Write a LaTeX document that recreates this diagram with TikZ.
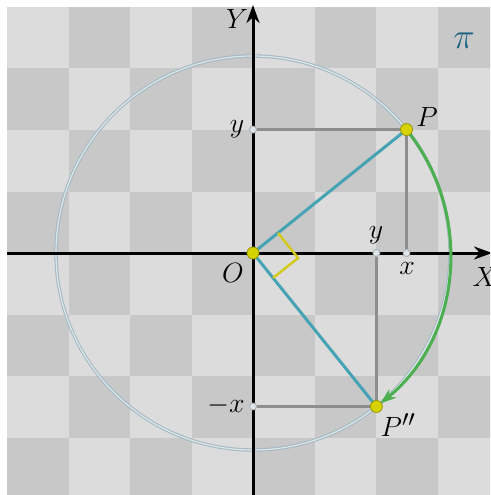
\documentclass[tikz,border=0pt]{standalone}
\usetikzlibrary{arrows.meta}
\definecolor{lightsq}{HTML}{DCDCDC}
\definecolor{darksq}{HTML}{C8C8C8}
\definecolor{circ}{HTML}{A5BAC2}
\definecolor{circin}{HTML}{DDE6EA}
\definecolor{guide}{HTML}{8E8E8E}
\definecolor{radius}{HTML}{45A3B4}
\definecolor{arcg}{HTML}{4CAF50}
\definecolor{yel}{HTML}{D6D200}
\definecolor{yeld}{HTML}{9A9600}
\definecolor{rightmark}{HTML}{D2C81E}
\definecolor{pic}{HTML}{1A6080}
\tikzset{
  axis/.style={line width=3pt, draw=black, -{Stealth[length=18pt,width=13pt]}},
  guideline/.style={line width=2.5pt, draw=guide},
  radline/.style={line width=3pt, draw=radius},
  smalldot/.style={circle, inner sep=0pt, minimum size=7pt, fill=circin, draw=guide!70, line width=0.8pt},
  bigdot/.style={circle, inner sep=0pt, minimum size=12pt, fill=yel, draw=yeld, line width=0.8pt},
  lab/.style={font=\Huge, inner sep=0pt, scale=1.12}
}
\begin{document}
\begin{tikzpicture}[x=1pt,y=-1pt]
\useasboundingbox (0,0) rectangle (490,495);
\clip (0,0) rectangle (490,495);
\fill[white] (0,0) rectangle (490,495);
\fill[lightsq] (7,7) rectangle (500,500);
\foreach \i in {0,...,7}{
  \foreach \j in {0,...,7}{
    \pgfmathtruncatemacro\myparity{mod(\i+\j,2)}
    \ifnum\myparity=1
      \fill[darksq] ({7+61.5*\i},{7+61.5*\j}) rectangle ++(61.5,61.5);
    \fi
  }
}
\coordinate (O) at (253,253);
\coordinate (P) at (406.5,129.6);
\coordinate (Q) at (376.4,406.5);
\coordinate (Ytop) at (253,5);
\coordinate (Ybot) at (253,500);
\coordinate (Xl) at (7,253);
\coordinate (Xr) at (492,253);
% circle
\draw[draw=circ, double=circin, double distance=1.2pt, line width=1.1pt] (O) circle[radius=197];
% guide lines
\node[smalldot] (ya) at (253,129.6) {};
\node[smalldot] (xa) at (406.5,253) {};
\node[smalldot] (yb) at (376.4,253) {};
\node[smalldot] (xb) at (253,406.5) {};
\draw[guideline] (ya) -- (P) -- (xa);
\draw[guideline] (yb) -- (Q) -- (xb);
% axes
\draw[axis] (Xl) -- (Xr);
\draw[axis] (Ybot) -- (Ytop);
\node[smalldot] at (ya) {};
\node[smalldot] at (xa) {};
\node[smalldot] at (yb) {};
\node[smalldot] at (xb) {};
% radii
\draw[radline] (O) -- (P);
\draw[radline] (O) -- (Q);
% right angle
\coordinate (ra) at (277.9,232.9);
\coordinate (rc) at (298.1,258.0);
\coordinate (rb) at (273.1,277.9);
\draw[draw=rightmark, line width=2.5pt] (ra) -- (rc) -- (rb);
% green arc
\draw[arcg, line width=3pt, -{Stealth[length=16pt,width=11pt]}, shorten >=5pt] (P) arc[start angle=-38.8, end angle=51.2, radius=197];
% points
\node[bigdot] (Od) at (O) {};
\node[bigdot] (Pd) at (P) {};
\node[bigdot] (Qd) at (Q) {};
% labels
\node[lab] (Ylab) at (237,19) {$Y$};
\node[lab] (Xlab) at (485,277) {$X$};
\node[lab] (Olab) at (233,273) {$O$};
\node[font=\Huge, inner sep=0pt, scale=1.45, text=pic] (pilab) at (464,41) {$\pi$};
\node[lab] (y1) at (237,129) {$y$};
\node[lab] (x1) at (407,268) {$x$};
\node[lab] (y2) at (376,235) {$y$};
\node[lab] (x2) at (226,406) {$-x$};
\node[lab] (Plab) at (427,117) {$P$};
\node[lab] (Qlab) at (398,425) {$P''$};
\end{tikzpicture}
\end{document}
